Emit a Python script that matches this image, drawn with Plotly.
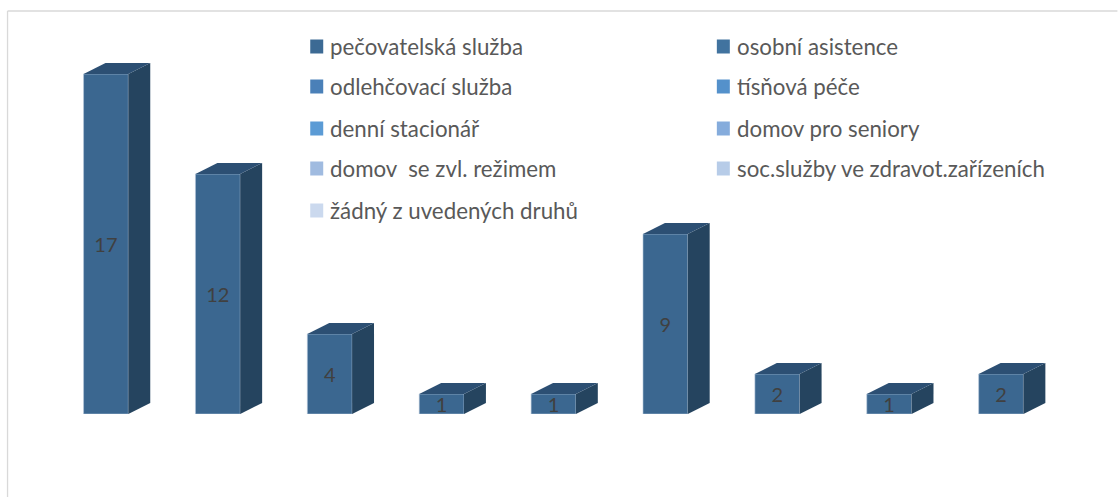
import plotly.graph_objects as go

W, H = 1118, 497
values = [17, 12, 4, 1, 1, 9, 2, 1, 2]
legend_labels = ["pečovatelská služba", "osobní asistence", "odlehčovací služba", "tísňová péče",
                 "denní stacionář", "domov pro seniory", "domov  se zvl. režimem",
                 "soc.služby ve zdravot.zařízeních", "žádný z uvedených druhů"]
legend_colors = ["#3c6a94", "#41739f", "#4a80b8", "#5491cb", "#5b9bd5",
                 "#85acdc", "#a0bbe0", "#b7cce8", "#cbd9ee"]

FRONT, TOP, SIDE = "#3b6790", "#2c4f73", "#25445f"
BW, DX, DY = 0.40, 0.196, 0.55
PL, PR, PT, PB = 49.5, 1057.5, 54, 414


def px(x):
    return (x - PL) / (PR - PL)


def py(y):
    return (PB - y) / (PB - PT)


fig = go.Figure()
xs = list(range(len(values)))
# 3-D side and top faces, derived from each value
for i, v in zip(xs, values):
    l, r = i - BW / 2, i + BW / 2
    fig.add_trace(go.Scatter(x=[r, r + DX, r + DX, r, r], y=[0, DY, v + DY, v, 0], fill="toself", mode="none",
                             fillcolor=SIDE, hoverinfo="skip", showlegend=False))
    fig.add_trace(go.Scatter(x=[l, l + DX, r + DX, r, l], y=[v, v + DY, v + DY, v, v], fill="toself", mode="none",
                             fillcolor=TOP, hoverinfo="skip", showlegend=False))
fig.add_trace(go.Bar(x=xs, y=values, width=BW, marker=dict(color=FRONT, line=dict(color="#b4c6da", width=0.6)),
                     showlegend=False, hoverinfo="skip"))
fig.add_trace(go.Scatter(x=xs, y=[v / 2 - 0.15 for v in values], mode="text", text=[str(v) for v in values],
                         textfont=dict(family="Lato", size=20, color="#404040"), showlegend=False, hoverinfo="skip"))

# Hand-placed legend
rows_y = [46.5, 86.5, 128.5, 168.5, 210.5]
shapes = [dict(type="line", xref="paper", yref="paper", x0=px(7), x1=px(7), y0=py(11), y1=py(H),
               line=dict(color="#d9d9d9", width=1.3)),
          dict(type="line", xref="paper", yref="paper", x0=px(7), x1=px(W), y0=py(11), y1=py(11),
               line=dict(color="#d9d9d9", width=1.3))]
annots = []
for k, (lab, col) in enumerate(zip(legend_labels, legend_colors)):
    row, column = k // 2, k % 2
    sx = [310, 717][column]
    tx = [330, 737][column]
    yc = rows_y[row]
    shapes.append(dict(type="rect", xref="paper", yref="paper", x0=px(sx), x1=px(sx + 13),
                       y0=py(yc + 7), y1=py(yc - 7), fillcolor=col, line=dict(width=0)))
    annots.append(dict(xref="paper", yref="paper", x=px(tx - 2), y=py(yc), text=lab, showarrow=False,
                       xanchor="left", yanchor="middle", font=dict(family="Lato", size=22.3, color="#595959")))

fig.update_layout(
    width=W, height=H, autosize=False, paper_bgcolor="white", plot_bgcolor="white",
    margin=dict(l=PL, r=W - PR, t=PT, b=H - PB), shapes=shapes, annotations=annots, showlegend=False,
    xaxis=dict(range=[-0.5, 8.5], visible=False), yaxis=dict(range=[0, 18], visible=False),
)
fig.write_html("out.html", config={"displayModeBar": False}, post_script="document.body.style.margin='0';")
